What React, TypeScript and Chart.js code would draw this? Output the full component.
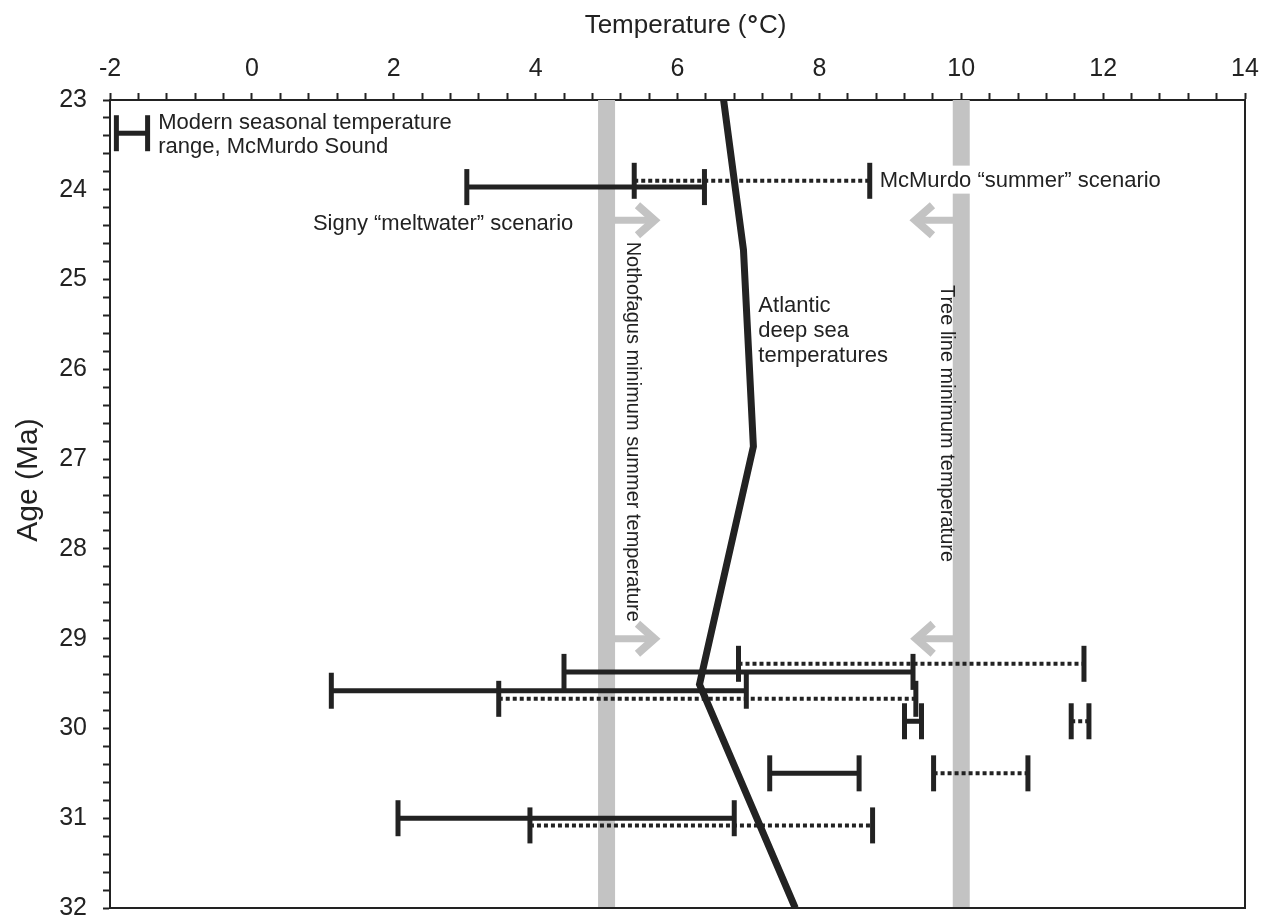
import React, { useEffect, useRef } from 'react';
import { Chart, registerables } from 'chart.js';

Chart.register(...registerables);

// ---------- data ----------
const xTickLabels = [-2, 0, 2, 4, 6, 8, 10, 12, 14];
const yTickLabels = [23, 24, 25, 26, 27, 28, 29, 30, 31, 32];

// Signy "meltwater" scenario (solid bars)
const signyAge = [23.97, 29.37, 29.58, 29.92, 30.5, 31.0];
const signyLow = [3.03, 4.4, 1.12, 9.2, 7.3, 2.06];
const signyHigh = [6.38, 9.32, 6.97, 9.44, 8.56, 6.8];

// McMurdo "summer" scenario (dotted bars)
const mcmAge = [23.9, 29.28, 29.67, 29.92, 30.5, 31.08];
const mcmLow = [5.39, 6.86, 3.48, 11.55, 9.61, 3.92];
const mcmHigh = [8.71, 11.73, 9.36, 11.8, 10.94, 8.75];

// Modern seasonal temperature range, McMurdo Sound
const modernAge = [23.37];
const modernLow = [-1.91];
const modernHigh = [-1.47];

// Atlantic deep sea temperatures
const atlanticTemp = [6.65, 6.93, 7.07, 6.31, 7.66];
const atlanticAge = [23, 24.67, 26.86, 29.51, 32];

// Threshold bands (Nothofagus minimum summer temperature, tree line minimum temperature)
const bandTemp = [5, 10];
const bandAgeFrom = [23, 23];
const bandAgeTo = [32, 32];

// Arrows off the threshold bands
const arrowAge = [24.34, 24.34, 29.0, 29.0];
const arrowFrom = [5, 10, 5, 10];
const arrowTip = [5.76, 9.27, 5.76, 9.28];

// ---------- styling ----------
const FONT = '"Liberation Sans", Arial, Helvetica, sans-serif';
const INK = '#222222';
const GRAY = '#c3c3c3';

const notes = [
  { text: 'Modern seasonal temperature', t: -1.32, age: 23.326, white: false },
  { text: 'range, McMurdo Sound', t: -1.32, age: 23.593, white: false },
  { text: 'McMurdo \u201csummer\u201d scenario', t: 8.85, age: 23.965, white: true },
  { text: 'Signy \u201cmeltwater\u201d scenario', t: 0.86, age: 24.448, white: false },
  { text: 'Atlantic', t: 7.14, age: 25.357, white: false },
  { text: 'deep sea', t: 7.14, age: 25.636, white: false },
  { text: 'temperatures', t: 7.14, age: 25.914, white: false },
];

const verticalNotes = [
  { text: 'Nothofagus minimum summer temperature', t: 5.36, age: 24.578 },
  { text: 'Tree line minimum temperature', t: 9.79, age: 25.06 },
];

function barDataset(lo: number, hi: number, age: number, dotted: boolean) {
  return {
    data: [
      { x: lo, y: age },
      { x: hi, y: age },
    ],
    showLine: true,
    borderColor: INK,
    borderWidth: dotted ? 4 : 5,
    borderDash: dotted ? [4, 3] : [],
    borderCapStyle: 'butt',
    pointStyle: 'line',
    rotation: 90,
    pointRotation: 90,
    pointRadius: 18,
    pointHoverRadius: 18,
    pointBorderWidth: 5,
    pointBorderColor: INK,
    pointBackgroundColor: INK,
    order: 1,
  };
}

const annotationPlugin = {
  id: 'paleoAnnotations',
  beforeDatasetsDraw(chart: any) {
    const { ctx, scales } = chart;
    const x = scales.x;
    const y = scales.y;
    ctx.save();
    ctx.strokeStyle = GRAY;
    arrowAge.forEach((age, i) => {
      const py = y.getPixelForValue(age);
      const p0 = x.getPixelForValue(arrowFrom[i]);
      const tip = x.getPixelForValue(arrowTip[i]);
      const dir = tip > p0 ? 1 : -1;
      const vx = tip - dir * 6;
      ctx.lineCap = 'butt';
      ctx.lineWidth = 7;
      ctx.beginPath();
      ctx.moveTo(p0, py);
      ctx.lineTo(vx - dir * 3, py);
      ctx.stroke();
      ctx.lineWidth = 8;
      ctx.lineJoin = 'miter';
      ctx.beginPath();
      ctx.moveTo(vx - dir * 17, py - 15);
      ctx.lineTo(vx, py);
      ctx.lineTo(vx - dir * 17, py + 15);
      ctx.stroke();
    });
    ctx.restore();
  },
  afterDatasetsDraw(chart: any) {
    const { ctx, scales } = chart;
    const x = scales.x;
    const y = scales.y;
    ctx.save();
    ctx.font = `22px ${FONT}`;
    ctx.textAlign = 'left';
    ctx.textBaseline = 'alphabetic';
    notes.forEach((n) => {
      const px = x.getPixelForValue(n.t);
      const py = y.getPixelForValue(n.age);
      if (n.white) {
        const w = ctx.measureText(n.text).width;
        ctx.fillStyle = '#ffffff';
        ctx.fillRect(px - 2, py - 21, w + 4, 28);
      }
      ctx.fillStyle = INK;
      ctx.fillText(n.text, px, py);
    });
    ctx.font = `20px ${FONT}`;
    ctx.textBaseline = 'middle';
    verticalNotes.forEach((n) => {
      const px = x.getPixelForValue(n.t);
      const py = y.getPixelForValue(n.age);
      ctx.save();
      ctx.translate(px, py);
      ctx.rotate(Math.PI / 2);
      ctx.fillStyle = INK;
      ctx.fillText(n.text, 0, 0);
      ctx.restore();
    });
    ctx.restore();
  },
  afterDraw(chart: any) {
    const { ctx, chartArea } = chart;
    ctx.save();
    ctx.strokeStyle = INK;
    ctx.lineWidth = 2;
    ctx.beginPath();
    ctx.moveTo(chartArea.right, chartArea.top);
    ctx.lineTo(chartArea.right, chartArea.bottom);
    ctx.lineTo(chartArea.left, chartArea.bottom);
    ctx.stroke();

    // x axis title with a bold degree sign
    const partA = 'Temperature (';
    const partB = '\u00b0';
    const partC = 'C)';
    const normal = `26px ${FONT}`;
    const bold = `bold 26px ${FONT}`;
    ctx.fillStyle = INK;
    ctx.textAlign = 'left';
    ctx.textBaseline = 'alphabetic';
    ctx.font = normal;
    const wA = ctx.measureText(partA).width;
    const wC = ctx.measureText(partC).width;
    ctx.font = bold;
    const wB = ctx.measureText(partB).width + 2;
    const total = wA + wB + wC;
    const cx = (chartArea.left + chartArea.right) / 2 + 8;
    let tx = cx - total / 2;
    const ty = 33;
    ctx.font = normal;
    ctx.fillText(partA, tx, ty);
    tx += wA;
    ctx.font = bold;
    ctx.fillText(partB, tx + 1, ty);
    tx += wB;
    ctx.font = normal;
    ctx.fillText(partC, tx, ty);

    // y axis title
    ctx.font = `30px ${FONT}`;
    ctx.textAlign = 'center';
    ctx.textBaseline = 'middle';
    ctx.translate(29, 480);
    ctx.rotate(-Math.PI / 2);
    ctx.fillText('Age (Ma)', 0, 0);
    ctx.restore();
  },
};

export default function App() {
  const canvasRef = useRef<HTMLCanvasElement | null>(null);

  useEffect(() => {
    const canvas = canvasRef.current;
    if (!canvas) return;

    const datasets: any[] = [];

    datasets.push({
      data: atlanticTemp.map((t, i) => ({ x: t, y: atlanticAge[i] })),
      showLine: true,
      borderColor: INK,
      borderWidth: 7,
      borderJoinStyle: 'miter',
      borderCapStyle: 'butt',
      pointRadius: 0,
      pointHoverRadius: 0,
      order: 0,
    });

    modernAge.forEach((a, i) => datasets.push(barDataset(modernLow[i], modernHigh[i], a, false)));
    signyAge.forEach((a, i) => datasets.push(barDataset(signyLow[i], signyHigh[i], a, false)));
    mcmAge.forEach((a, i) => datasets.push(barDataset(mcmLow[i], mcmHigh[i], a, true)));

    bandTemp.forEach((t, i) => {
      datasets.push({
        data: [
          { x: t, y: bandAgeFrom[i] },
          { x: t, y: bandAgeTo[i] },
        ],
        showLine: true,
        borderColor: GRAY,
        borderWidth: 17,
        borderCapStyle: 'butt',
        pointRadius: 0,
        pointHoverRadius: 0,
        order: 5,
      });
    });

    const chart = new Chart(canvas, {
      type: 'scatter',
      data: { datasets },
      options: {
        animation: false,
        responsive: false,
        maintainAspectRatio: false,
        events: [],
        layout: { autoPadding: false, padding: { left: 0, top: 0, right: 18, bottom: 8 } },
        plugins: {
          legend: { display: false },
          tooltip: { enabled: false },
        },
        scales: {
          x: {
            type: 'linear',
            position: 'top',
            min: -2,
            max: 14,
            ticks: {
              stepSize: 0.4,
              autoSkip: false,
              maxRotation: 0,
              padding: 9,
              color: INK,
              font: { size: 25, family: FONT },
              callback: (v: any) => {
                const r = Math.round(Number(v) * 10) / 10;
                return xTickLabels.includes(r) ? String(r) : '';
              },
            },
            grid: {
              drawOnChartArea: false,
              drawTicks: true,
              tickLength: 7,
              tickWidth: 2,
              tickColor: INK,
            },
            border: { display: true, color: INK, width: 2 },
            afterFit: (s: any) => {
              s.height = 100;
              s.paddingLeft = 0;
              s.paddingRight = 0;
            },
          },
          y: {
            type: 'linear',
            position: 'left',
            reverse: true,
            min: 23,
            max: 32,
            ticks: {
              stepSize: 0.2,
              autoSkip: false,
              padding: 16,
              color: INK,
              font: { size: 25, family: FONT },
              callback: (v: any) => {
                const r = Math.round(Number(v) * 10) / 10;
                return yTickLabels.includes(r) ? String(r) : '';
              },
            },
            grid: {
              drawOnChartArea: false,
              drawTicks: true,
              tickLength: 7,
              tickWidth: 2,
              tickColor: INK,
            },
            border: { display: true, color: INK, width: 2 },
            afterFit: (s: any) => {
              s.width = 110;
              s.paddingTop = 0;
              s.paddingBottom = 0;
            },
          },
        },
      },
      plugins: [annotationPlugin],
    } as any);

    return () => {
      chart.destroy();
    };
  }, []);

  return (
    <div style={{ position: 'absolute', left: 0, top: 0, width: 1263, height: 916, background: '#ffffff' }}>
      <canvas ref={canvasRef} width={1263} height={916} style={{ width: 1263, height: 916, display: 'block' }} />
    </div>
  );
}
